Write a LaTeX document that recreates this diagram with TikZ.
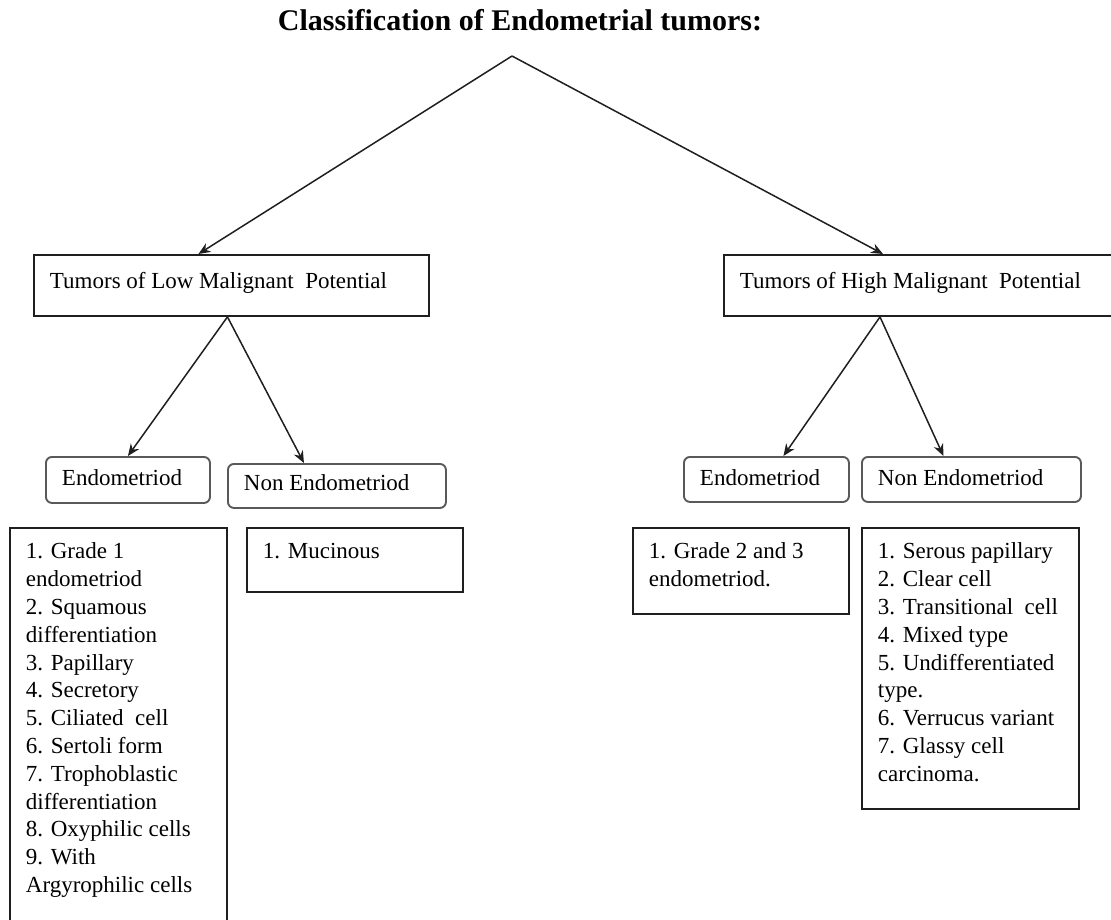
\documentclass[tikz,border=0pt]{standalone}
\usepackage{fontspec}
\setmainfont{Liberation Serif}
\usetikzlibrary{arrows.meta, positioning}
\definecolor{lineBlack}{gray}{0.12}
\definecolor{boxGray}{gray}{0.35}
% width, height, first baseline from top, text
\newcommand{\boxText}[4]{\parbox[t][#2][t]{#1}{\leftskip=16pt\relax\rule{0pt}{#3}#4}}
\tikzset{
  sqbox/.style={draw=lineBlack, line width=1.9pt, inner sep=0pt, anchor=north west},
  rndbox/.style={draw=boxGray, line width=1.9pt, rounded corners=6pt, inner sep=0pt, anchor=north west},
  link/.style={-{Stealth[length=12pt, width=10pt]}, line width=1.5pt, lineBlack}
}
\begin{document}
\begin{tikzpicture}[x=1pt, y=-1pt, font=\fontsize{23}{27.8}\selectfont]
    \useasboundingbox (0,0) rectangle (1111,919);
    \node[font=\bfseries\fontsize{30}{36}\selectfont, anchor=base] (title) at (520,30) {Classification of Endometrial tumors:};
    \coordinate (apex) at (512,56);

    % first level
    \node[sqbox] (lowTop) at (33,254) {\boxText{395pt}{61pt}{34pt}{Tumors of Low Malignant\ \ Potential}};
    \node[sqbox] (highTop) at (723,254) {\boxText{400pt}{61pt}{34pt}{Tumors of High Malignant\ \ Potential}};

    % second level
    \node[rndbox] (lowEndo) at (45,456) {\boxText{164pt}{46pt}{29pt}{Endometriod}};
    \node[rndbox] (lowNonEndo) at (227,463) {\boxText{218pt}{44pt}{27pt}{Non Endometriod}};
    \node[rndbox] (highEndo) at (683,456) {\boxText{165pt}{45pt}{29pt}{Endometriod}};
    \node[rndbox] (highNonEndo) at (861,456) {\boxText{219pt}{45pt}{29pt}{Non Endometriod}};

    % lists
    \node[sqbox] (lowList) at (9,527) {\boxText{217pt}{410pt}{31pt}{1. Grade 1\\ endometriod\\ 2. Squamous\\ differentiation\\ 3. Papillary\\ 4. Secretory\\ 5. Ciliated\ \ cell\\ 6. Sertoli form\\ 7. Trophoblastic\\ differentiation\\ 8. Oxyphilic cells\\ 9. With\\ Argyrophilic cells}};
    \node[sqbox] (mucList) at (246,527) {\boxText{216pt}{64pt}{31pt}{1. Mucinous}};
    \node[sqbox] (gradeList) at (632,527) {\boxText{216pt}{86pt}{31pt}{1. Grade 2 and 3\\ endometriod.}};
    \node[sqbox] (highList) at (861,527) {\boxText{217pt}{281pt}{31pt}{1. Serous papillary\\ 2. Clear cell\\ 3. Transitional\ \ cell\\ 4. Mixed type\\ 5. Undifferentiated\\ type.\\ 6. Verrucus variant\\ 7. Glassy cell\\ carcinoma.}};

    % connectors
    \draw[link] (apex) -- ([xshift=-33pt]lowTop.north);
    \draw[link] (apex) -- ([xshift=160pt]highTop.north west);
    \draw[link] ([xshift=-4pt]lowTop.south) -- (lowEndo.north);
    \draw[link] ([xshift=-4pt]lowTop.south) -- ([xshift=-33pt]lowNonEndo.north);
    \draw[link] ([xshift=157pt]highTop.south west) -- ([xshift=17pt]highEndo.north);
    \draw[link] ([xshift=157pt]highTop.south west) -- ([xshift=-28pt]highNonEndo.north);
\end{tikzpicture}
\end{document}
